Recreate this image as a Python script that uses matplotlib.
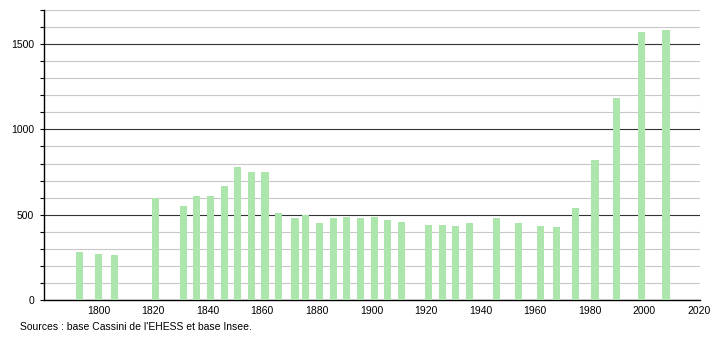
import matplotlib.pyplot as plt
from matplotlib.ticker import MultipleLocator

years = [1793, 1800, 1806, 1821, 1831, 1836, 1841, 1846, 1851, 1856, 1861,
         1866, 1872, 1876, 1881, 1886, 1891, 1896, 1901, 1906, 1911, 1921,
         1926, 1931, 1936, 1946, 1954, 1962, 1968, 1975, 1982, 1990, 1999,
         2008]
population = [280, 272, 263, 596, 551, 610, 610, 670, 782, 753, 753,
              512, 480, 496, 453, 480, 486, 480, 486, 469, 457, 439,
              439, 433, 451, 480, 451, 433, 428, 539, 822, 1186, 1569,
              1580]
source_text = "Sources : base Cassini de l'EHESS et base Insee."

plt.rcParams['font.family'] = ['Liberation Sans', 'DejaVu Sans']

fig = plt.figure(figsize=(7.1, 3.4), dpi=100)
ax = fig.add_axes([0.062, 0.1176, 0.924, 0.8530])

ax.bar(years, population, width=2.6, color='#ade6ad', zorder=3)

ax.set_xlim(1780, 2020.5)
ax.set_ylim(0, 1700)

ax.yaxis.set_major_locator(MultipleLocator(500))
ax.yaxis.set_minor_locator(MultipleLocator(100))
ax.xaxis.set_major_locator(MultipleLocator(20))
ax.set_xticks(range(1800, 2021, 20))

ax.grid(axis='y', which='minor', color='#c8c8c8', linewidth=0.8, zorder=1)
ax.grid(axis='y', which='major', color='#333333', linewidth=0.8, zorder=2)

for s in ['top', 'right']:
    ax.spines[s].set_visible(False)
ax.spines['left'].set_linewidth(1.0)
ax.spines['bottom'].set_linewidth(1.0)

ax.tick_params(axis='y', which='both', length=3, width=0.8, labelsize=7.5, pad=4)
ax.tick_params(axis='x', length=0, labelsize=7.5, pad=4)

fig.text(0.028, 0.038, source_text, fontsize=7.5, ha='left', va='center')

fig.savefig('out.png', dpi=100)
